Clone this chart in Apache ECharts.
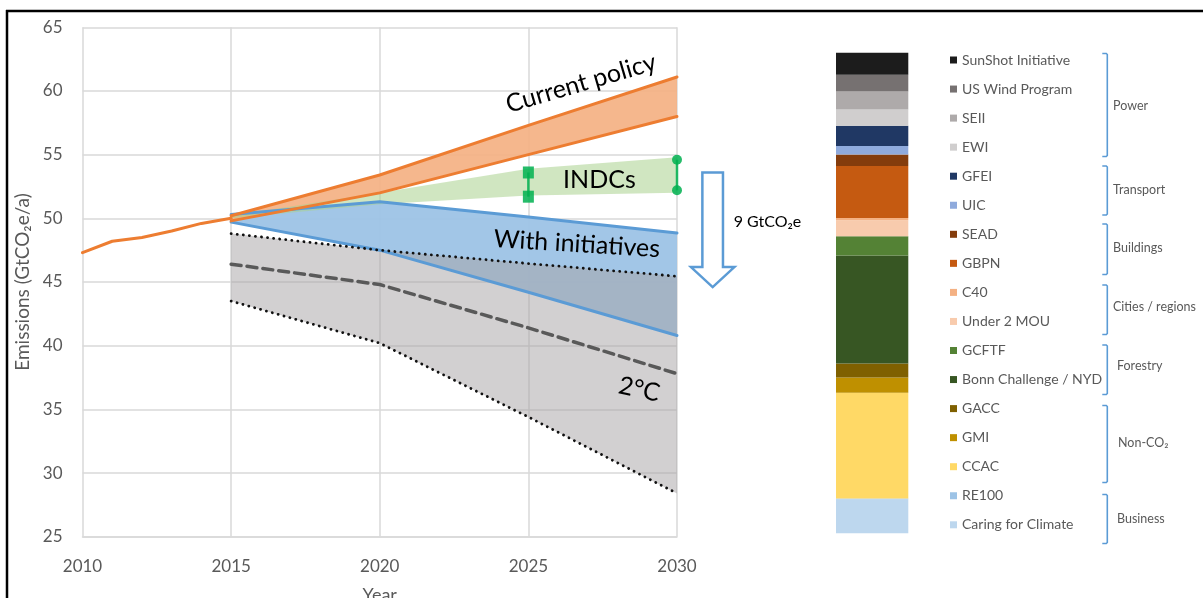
<!DOCTYPE html>
<html>
<head>
<meta charset="utf-8">
<script src="https://cdn.jsdelivr.net/npm/echarts@6/dist/echarts.min.js"></script>
<style>
  html, body { margin: 0; padding: 0; background: #ffffff; }
  #chart { width: 1203px; height: 598px; }
</style>
</head>
<body>
<div id="chart"></div>
<script>
// ---- Emission pathways (GtCO2e per year) ----
const historyYears = [2010, 2011, 2012, 2013, 2014, 2015];
const historyValues = [47.3, 48.2, 48.5, 49.0, 49.6, 50.0];

const scenarioYears = [2015, 2020, 2025, 2030];
const currentPolicyHigh = [50.2, 53.4, 57.3, 61.1];
const currentPolicyLow = [49.8, 52.0, 55.0, 58.0];
const indcLow = [50.0, 51.1, 51.8, 52.0];
const indcHigh = [50.2, 52.0, 53.9, 54.8];
const initiativesHigh = [50.3, 51.3, 50.1, 48.85];
const initiativesLow = [49.7, 47.5, 44.2, 40.8];
const twoDegreeHigh = [48.8, 47.5, 46.45, 45.45];
const twoDegreeMid = [46.4, 44.8, 41.4, 37.8];
const twoDegreeLow = [43.5, 40.2, 34.4, 28.4];

// INDC ranges shown as error bars
const indcRangeYears = [2025, 2030];
const indcRangeLow = [51.7, 52.2];
const indcRangeHigh = [53.6, 54.6];
const indcRangeMarker = [0, 1]; // 0 = square ends, 1 = round ends

// Reduction delivered by the initiatives
const gapTop = 53.6;
const gapValue = 9;

// ---- Contributions of individual initiatives (share of total, top to bottom) ----
const initiativeNames = [
  'SunShot Initiative', 'US Wind Program', 'SEII', 'EWI',
  'GFEI', 'UIC',
  'SEAD', 'GBPN',
  'C40', 'Under 2 MOU',
  'GCFTF', 'Bonn Challenge / NYD',
  'GACC', 'GMI', 'CCAC',
  'RE100', 'Caring for Climate'
];
const initiativeShares = [
  4.6, 3.5, 3.7, 3.4,
  4.2, 1.8,
  2.4, 10.8,
  0.5, 3.3,
  4.0, 22.5,
  2.9, 3.2, 22.0,
  0.15, 7.1
];
const initiativeColors = [
  '#1c1c1c', '#767171', '#aeaaaa', '#d0cece',
  '#203864', '#8faadc',
  '#843c0c', '#c55a11',
  '#f4b183', '#f8cbad',
  '#548235', '#375623',
  '#7f6000', '#bf9000', '#ffd966',
  '#9dc3e6', '#bdd7ee'
];

// Sector groups: label, bracket top/bottom (px), label position (px)
const sectorLabels = ['Power', 'Transport', 'Buildings', 'Cities / regions', 'Forestry', 'Non-CO₂', 'Business'];
const sectorBracketTop = [53.5, 166, 224, 285, 345, 405.5, 494.5];
const sectorBracketBottom = [156.5, 215, 274.5, 334.5, 394.5, 482.5, 543.5];
const sectorLabelX = [1113, 1113, 1113, 1113, 1117, 1118, 1117];
const sectorLabelY = [106, 190, 247.5, 306.5, 366, 442.5, 518.5];

const FONT = 'Lato';
const GREY_TEXT = '#595959';

const chart = echarts.init(document.getElementById('chart'), null, { renderer: 'canvas' });

const pairs = (xs, ys) => xs.map((x, i) => [x, ys[i]]);

// Filled range between a low and a high pathway
function band(id, lo, hi, color) {
  return {
    type: 'custom', name: id, xAxisIndex: 0, yAxisIndex: 0, silent: true,
    data: scenarioYears.map((y, i) => [y, lo[i], hi[i]]),
    encode: { x: 0, y: [1, 2] },
    renderItem: function (params, api) {
      if (params.dataIndex !== 0) return null;
      const upper = scenarioYears.map((y, i) => api.coord([y, hi[i]]));
      const lower = scenarioYears.map((y, i) => api.coord([y, lo[i]])).reverse();
      return { type: 'polygon', shape: { points: upper.concat(lower) }, style: { fill: color } };
    }
  };
}

function line(name, xs, ys, color, width, type) {
  return {
    type: 'line', name: name, xAxisIndex: 0, yAxisIndex: 0,
    data: pairs(xs, ys), symbol: 'none', silent: true,
    lineStyle: { color: color, width: width, type: type || 'solid', cap: 'round' }
  };
}

const barSeries = initiativeNames.map((name, i) => ({
  type: 'bar', name: name, xAxisIndex: 1, yAxisIndex: 1, stack: 'initiatives',
  barWidth: '100%', data: [initiativeShares[i]],
  itemStyle: { color: initiativeColors[i] }, silent: true
})).reverse();

const shareTotal = initiativeShares.reduce((a, b) => a + b, 0);

const option = {
  animation: false,
  backgroundColor: '#ffffff',
  textStyle: { fontFamily: FONT },
  grid: [
    { left: 82.5, right: 526, top: 27.3, bottom: 61.3, outerBoundsMode: 'none', containLabel: false },
    { left: 836, width: 72.3, top: 52.7, height: 480.6, outerBoundsMode: 'none', containLabel: false }
  ],
  xAxis: [
    {
      type: 'value', gridIndex: 0, min: 2010, max: 2030, interval: 5,
      name: 'Year', nameLocation: 'middle', nameGap: 49,
      nameTextStyle: { fontSize: 18, color: GREY_TEXT, fontFamily: FONT },
      axisLine: { show: true, lineStyle: { color: '#d9d9d9', width: 1.5 } },
      axisTick: { show: false },
      axisLabel: { fontSize: 17, color: GREY_TEXT, fontFamily: FONT, margin: 21, formatter: v => String(v) },
      splitLine: { show: true, lineStyle: { color: '#d9d9d9', width: 1.5 } }
    },
    {
      type: 'category', gridIndex: 1, data: [''], show: false
    }
  ],
  yAxis: [
    {
      type: 'value', gridIndex: 0, min: 25, max: 65, interval: 5,
      name: 'Emissions (GtCO₂e/a)', nameLocation: 'middle', nameGap: 50,
      nameTextStyle: { fontSize: 19, color: GREY_TEXT, fontFamily: FONT },
      axisLine: { show: false },
      axisTick: { show: false },
      axisLabel: { fontSize: 17, color: GREY_TEXT, fontFamily: FONT, margin: 20 },
      splitLine: { show: true, lineStyle: { color: '#d9d9d9', width: 1.5 } }
    },
    {
      type: 'value', gridIndex: 1, min: 0, max: shareTotal, show: false
    }
  ],
  legend: {
    data: initiativeNames,
    orient: 'vertical', left: 950, top: 52, padding: 0,
    icon: 'rect', itemWidth: 7, itemHeight: 7, itemGap: 13.05,
    selectedMode: false,
    textStyle: { fontSize: 14, color: GREY_TEXT, fontFamily: FONT, lineHeight: 16 }
  },
  series: [
    // With initiatives
    band('initiatives', initiativesLow, initiativesHigh, 'rgba(157,195,230,0.95)'),
    line('Initiatives high', scenarioYears, initiativesHigh, '#5b9bd5', 3),
    line('Initiatives low', scenarioYears, initiativesLow, '#5b9bd5', 3),
    // 2 degree pathway range
    band('twoDegree', twoDegreeLow, twoDegreeHigh, 'rgba(166,162,164,0.5)'),
    // Current policy
    band('currentPolicy', currentPolicyLow, currentPolicyHigh, 'rgba(244,177,131,0.92)'),
    // INDCs
    band('indc', indcLow, indcHigh, 'rgba(169,209,142,0.55)'),
    line('History', historyYears, historyValues, '#ed7d31', 3),
    line('Current policy high', scenarioYears, currentPolicyHigh, '#ed7d31', 3),
    line('Current policy low', scenarioYears, currentPolicyLow, '#ed7d31', 3),
    line('2°C high', scenarioYears, twoDegreeHigh, '#111111', 2.8, [0.1, 6]),
    line('2°C low', scenarioYears, twoDegreeLow, '#111111', 2.8, [0.1, 6]),
    line('2°C', scenarioYears, twoDegreeMid, '#595959', 3.5, [10, 6]),
    {
      type: 'custom', name: 'INDC range', xAxisIndex: 0, yAxisIndex: 0, silent: true,
      data: indcRangeYears.map((y, i) => [y, indcRangeLow[i], indcRangeHigh[i], indcRangeMarker[i]]),
      encode: { x: 0, y: [1, 2] },
      renderItem: function (params, api) {
        const lo = api.coord([api.value(0), api.value(1)]);
        const hi = api.coord([api.value(0), api.value(2)]);
        const c = 'rgba(0,176,80,0.85)';
        const ends = api.value(3) === 0
          ? [lo, hi].map(p => ({ type: 'rect', shape: { x: p[0] - 5.5, y: p[1] - 6, width: 11, height: 12 }, style: { fill: c } }))
          : [lo, hi].map(p => ({ type: 'circle', shape: { cx: p[0], cy: p[1], r: 5 }, style: { fill: c } }));
        return {
          type: 'group',
          children: [
            { type: 'line', shape: { x1: lo[0], y1: lo[1], x2: hi[0], y2: hi[1] }, style: { stroke: c, lineWidth: 2.5 } }
          ].concat(ends)
        };
      }
    },
    ...barSeries
  ]
};

chart.setOption(option);

// ---- Annotations placed in data coordinates ----
const px = (x, y) => chart.convertToPixel({ xAxisIndex: 0, yAxisIndex: 0 }, [x, y]);
const deg = d => d * Math.PI / 180;

function label(text, at, rot, size) {
  return {
    type: 'text', x: at[0], y: at[1], rotation: deg(rot), z: 100, silent: true,
    style: { text: text, align: 'center', verticalAlign: 'middle', fill: '#000000', font: size + 'px ' + FONT }
  };
}

const arrowX = px(2031.2, gapTop)[0];
const arrowTop = px(2031.2, gapTop)[1];
const arrowTip = px(2031.2, gapTop - gapValue)[1];
const shaftHalf = 10.3, headHalf = 21.7, headLen = 20;
const arrowPoints = [
  [arrowX - shaftHalf, arrowTop], [arrowX + shaftHalf, arrowTop],
  [arrowX + shaftHalf, arrowTip - headLen], [arrowX + headHalf, arrowTip - headLen],
  [arrowX, arrowTip],
  [arrowX - headHalf, arrowTip - headLen], [arrowX - shaftHalf, arrowTip - headLen]
];

const graphics = [
  // frame
  { type: 'line', shape: { x1: 6, y1: 11, x2: 1203, y2: 11 }, style: { stroke: '#000', lineWidth: 2.5 }, silent: true },
  { type: 'line', shape: { x1: 7, y1: 10, x2: 7, y2: 598 }, style: { stroke: '#000', lineWidth: 2.5 }, silent: true },
  label('Current policy', px(2026.77, 60.6), 16.3, 25),
  label('INDCs', px(2027.39, 53.0), 0, 25),
  label('With initiatives', px(2026.63, 47.98), -3.5, 25),
  label('2°C', px(2028.73, 36.56), -12, 25),
  {
    type: 'polygon', z: 100, silent: true,
    shape: { points: arrowPoints },
    style: { fill: '#ffffff', stroke: '#5b9bd5', lineWidth: 2.5 }
  },
  {
    type: 'text', x: arrowX + 21, y: (arrowTop + arrowTip) / 2 - 8, z: 100, silent: true,
    style: { text: gapValue + ' GtCO₂e', align: 'left', verticalAlign: 'middle', fill: '#000', font: '16px ' + FONT }
  }
];

// sector brackets and labels
sectorLabels.forEach((name, i) => {
  const xv = 1107.3, t = sectorBracketTop[i], b = sectorBracketBottom[i];
  graphics.push({
    type: 'polyline', silent: true,
    shape: { points: [[xv - 5, t], [xv - 1, t], [xv, t + 1], [xv, b - 1], [xv - 1, b], [xv - 5, b]] },
    style: { stroke: '#5b9bd5', lineWidth: 1.6, fill: null }
  });
  graphics.push({
    type: 'text', x: sectorLabelX[i], y: sectorLabelY[i], silent: true,
    style: { text: name, align: 'left', verticalAlign: 'middle', fill: GREY_TEXT, font: '12.5px ' + FONT }
  });
});

chart.setOption({ graphic: graphics });
</script>
</body>
</html>
